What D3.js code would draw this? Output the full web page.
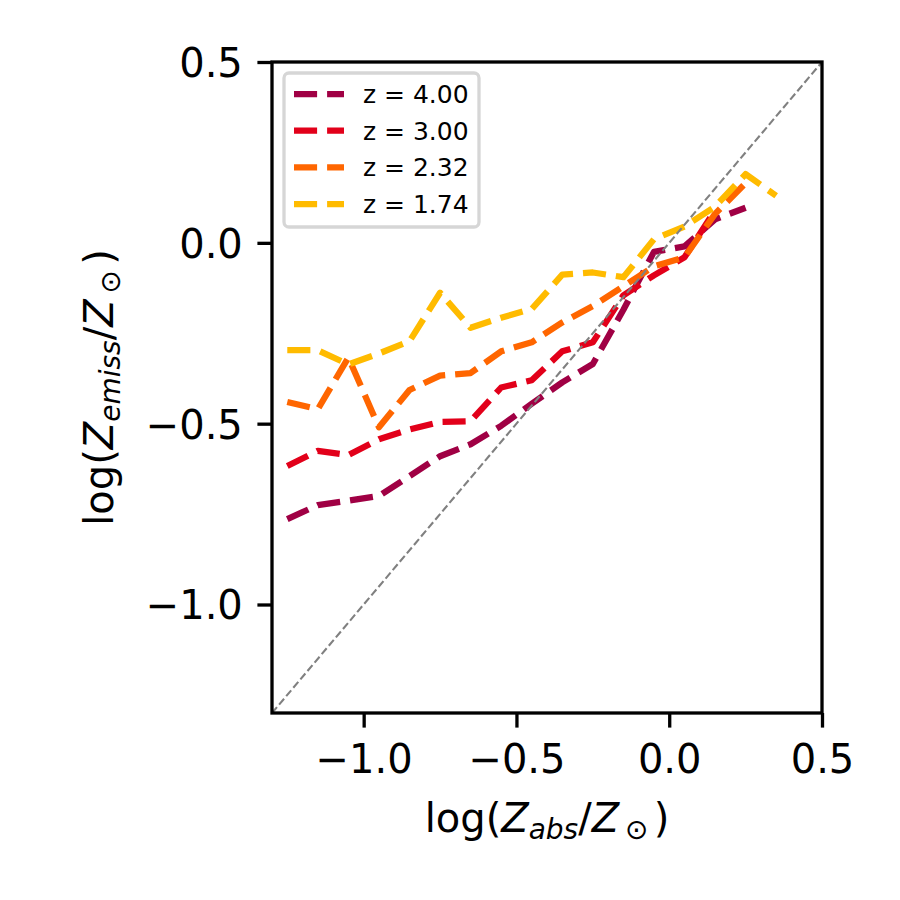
<!DOCTYPE html>
<html>
<head>
<meta charset="utf-8">
<script src="https://cdn.jsdelivr.net/npm/d3@7"></script>
<style>
  body { margin: 0; background: #fff; }
  text { font-family: "DejaVu Sans", sans-serif; }
</style>
</head>
<body>
<div id="chart"></div>
<script>
// bin centres of log(Z_abs/Z_sun)
let xBins = [-1.25, -1.15, -1.05, -0.95, -0.85, -0.75, -0.65, -0.55, -0.45, -0.35, -0.25, -0.15, -0.05, 0.05, 0.15, 0.25, 0.35];

let seriesNames = ["z = 4.00", "z = 3.00", "z = 2.32", "z = 1.74"];
let seriesColors = ["#a00044", "#e2001a", "#ff6600", "#ffbb00"];

let z400 = [-0.764, -0.725, -0.713, -0.700, -0.645, -0.590, -0.557, -0.506, -0.445, -0.386, -0.335, -0.185, -0.025, -0.010, 0.065, 0.097];
let z300 = [-0.617, -0.575, -0.587, -0.543, -0.516, -0.495, -0.493, -0.400, -0.380, -0.300, -0.275, -0.145, -0.090, -0.040, 0.090];
let z232 = [-0.440, -0.460, -0.317, -0.510, -0.407, -0.367, -0.360, -0.300, -0.275, -0.220, -0.175, -0.120, -0.065, -0.040, 0.080, 0.165];
let z174 = [-0.297, -0.297, -0.336, -0.306, -0.272, -0.138, -0.235, -0.207, -0.183, -0.088, -0.082, -0.095, 0.010, 0.045, 0.100, 0.190, 0.130];

let xTicks = [-1.0, -0.5, 0.0, 0.5];
let yTicks = [-1.0, -0.5, 0.0, 0.5];

let width = 900, height = 900;
let plotLeft = 272, plotRight = 822, plotTop = 62, plotBottom = 713;

let svg = d3.select("#chart").append("svg")
    .attr("width", width)
    .attr("height", height);

let x = d3.scaleLinear().domain([-1.3, 0.5]).range([plotLeft, plotRight]);
let y = d3.scaleLinear().domain([-1.3, 0.5]).range([plotBottom, plotTop]);

let fmt = d3.format(".1f");

// axes
let xAxis = svg.append("g")
    .attr("transform", `translate(0,${plotBottom})`)
    .call(d3.axisBottom(x).tickValues(xTicks).tickFormat(fmt).tickSizeInner(14.6).tickSizeOuter(0).tickPadding(14.6));
let yAxis = svg.append("g")
    .attr("transform", `translate(${plotLeft},0)`)
    .call(d3.axisLeft(y).tickValues(yTicks).tickFormat(fmt).tickSizeInner(14.6).tickSizeOuter(0).tickPadding(14.6));

[xAxis, yAxis].forEach(g => {
    g.select(".domain").remove();
    g.selectAll(".tick line").attr("stroke", "#000").attr("stroke-width", 3.3);
    g.selectAll(".tick text").attr("fill", "#000").style("font-size", "40px");
});
xAxis.selectAll(".tick text").attr("dy", "0.76em");
yAxis.selectAll(".tick text").attr("dy", "0.36em");

// clip so the lines stay inside the frame
svg.append("clipPath").attr("id", "plotclip")
    .append("rect").attr("x", plotLeft).attr("y", plotTop)
    .attr("width", plotRight - plotLeft).attr("height", plotBottom - plotTop);

let plot = svg.append("g").attr("clip-path", "url(#plotclip)");

let line = d3.line()
    .x(d => x(d[0]))
    .y(d => y(d[1]));

let allSeries = [z400, z300, z232, z174].map(vals => vals.map((v, i) => [xBins[i], v]));

plot.selectAll("path.series")
    .data(allSeries)
    .enter().append("path")
    .attr("class", "series")
    .attr("d", line)
    .attr("fill", "none")
    .attr("stroke", (_, i) => seriesColors[i])
    .attr("stroke-width", 6.25)
    .attr("stroke-dasharray", "23.1,10")
    .attr("stroke-linejoin", "round");

// one-to-one line
plot.append("path")
    .attr("d", line([[-1.3, -1.3], [0.5, 0.5]]))
    .attr("fill", "none")
    .attr("stroke", "#808080")
    .attr("stroke-width", 2.1)
    .attr("stroke-dasharray", "7.7,3.3");

// frame
svg.append("rect")
    .attr("x", plotLeft).attr("y", plotTop)
    .attr("width", plotRight - plotLeft).attr("height", plotBottom - plotTop)
    .attr("fill", "none")
    .attr("stroke", "#000")
    .attr("stroke-width", 3.3);

// axis labels
let xlab = svg.append("text")
    .attr("x", (plotLeft + plotRight) / 2)
    .attr("y", 832)
    .attr("text-anchor", "middle")
    .style("font-size", "40px");
xlab.append("tspan").text("log(");
xlab.append("tspan").attr("font-style", "italic").text("Z");
xlab.append("tspan").attr("font-style", "italic").attr("font-size", "28px").attr("dy", 7).text("abs");
xlab.append("tspan").attr("dy", -7).text("/");
xlab.append("tspan").attr("font-style", "italic").text("Z");
xlab.append("tspan").attr("font-size", "28px").attr("dy", 7).text("\u2009\u2299\u2009");
xlab.append("tspan").attr("dy", -7).text(")");

let ylab = svg.append("text")
    .attr("transform", `translate(113,${(plotTop + plotBottom) / 2}) rotate(-90)`)
    .attr("text-anchor", "middle")
    .style("font-size", "40px");
ylab.append("tspan").text("log(");
ylab.append("tspan").attr("font-style", "italic").text("Z");
ylab.append("tspan").attr("font-style", "italic").attr("font-size", "28px").attr("dy", 7).text("emiss");
ylab.append("tspan").attr("dy", -7).text("/");
ylab.append("tspan").attr("font-style", "italic").text("Z");
ylab.append("tspan").attr("font-size", "28px").attr("dy", 7).text("\u2009\u2299\u2009");
ylab.append("tspan").attr("dy", -7).text(")");

// legend
let legend = svg.append("g");
legend.append("rect")
    .attr("x", 284).attr("y", 73)
    .attr("width", 195).attr("height", 154)
    .attr("rx", 5)
    .attr("fill", "#fff")
    .attr("stroke", "#d6d6d6")
    .attr("stroke-width", 3.3);

let rows = legend.selectAll("g.row")
    .data(seriesNames)
    .enter().append("g")
    .attr("class", "row")
    .attr("transform", (_, i) => `translate(0,${94 + i * 36.7})`);

rows.append("line")
    .attr("x1", 294).attr("x2", 344)
    .attr("y1", 0).attr("y2", 0)
    .attr("stroke", (_, i) => seriesColors[i])
    .attr("stroke-width", 6.25)
    .attr("stroke-dasharray", "23.1,10");

rows.append("text")
    .attr("x", 363)
    .attr("dy", "0.36em")
    .style("font-size", "25px")
    .text(d => d);
</script>
</body>
</html>
